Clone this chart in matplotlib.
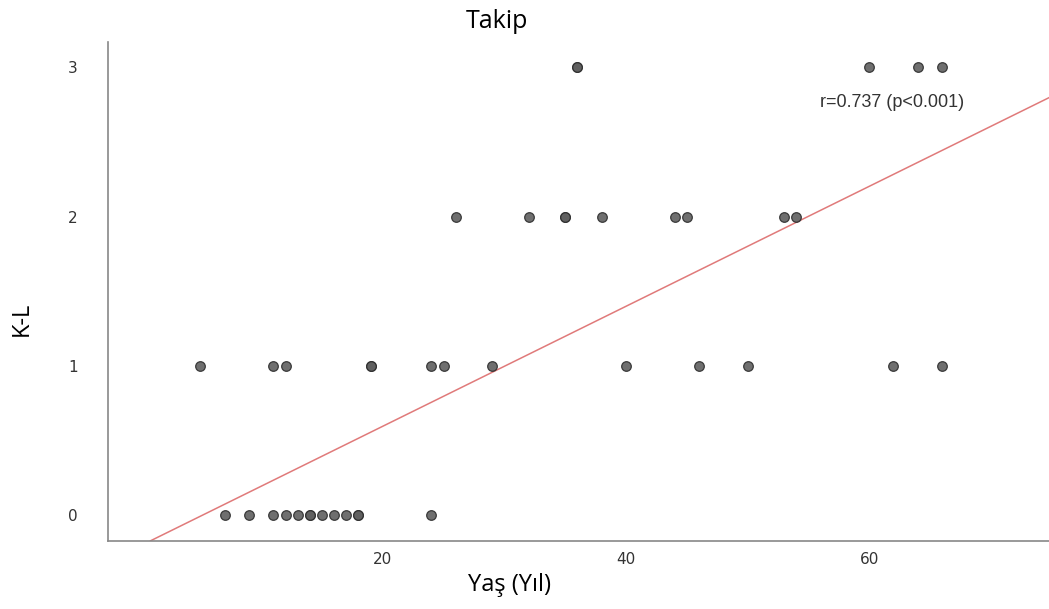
import matplotlib.pyplot as plt

# Age (years) and K-L grade
AGE = [36, 36, 60, 64, 66,
       26, 32, 35, 35, 38, 44, 45, 53, 54,
       5, 11, 12, 19, 19, 24, 25, 29, 40, 46, 50, 62, 66,
       7, 9, 11, 12, 13, 14, 14, 15, 16, 17, 18, 18, 24]
KL = [3, 3, 3, 3, 3,
      2, 2, 2, 2, 2, 2, 2, 2, 2,
      1, 1, 1, 1, 1, 1, 1, 1, 1, 1, 1, 1, 1,
      0, 0, 0, 0, 0, 0, 0, 0, 0, 0, 0, 0, 0]

# fit line as drawn in the reference
FIT_SLOPE = 0.0402
FIT_INTERCEPT = -0.21
FIT_LABEL = "r=0.737 (p<0.001)"

X_TICKS = [20, 40, 60]
Y_TICKS = [0, 1, 2, 3]


def main() -> None:
    fig = plt.figure(figsize=(10.49, 6.09), dpi=100)
    ax = fig.add_axes([0.103, 0.112, 0.897, 0.819])

    ax.scatter(AGE, KL, s=48, color="#5f5f5f", edgecolor="#2e2e2e",
               linewidth=0.9, alpha=0.9, zorder=3)
    ax.axline((0, FIT_INTERCEPT), slope=FIT_SLOPE, color="#e07a7a",
              linewidth=1.1, zorder=2)

    ax.set_xlim(-2.6, 74.8)
    ax.set_ylim(-0.174, 3.17)
    ax.set_xticks(X_TICKS)
    ax.set_yticks(Y_TICKS)
    ax.tick_params(length=0, labelsize=11, labelcolor="#333333")
    ax.tick_params(axis="y", pad=22)
    ax.tick_params(axis="x", pad=8)

    for side in ("top", "right"):
        ax.spines[side].set_visible(False)
    for side in ("left", "bottom"):
        ax.spines[side].set_color("#888888")
        ax.spines[side].set_linewidth(1.2)

    ax.text(0.833, 0.879, FIT_LABEL, transform=ax.transAxes, fontsize=13,
            family="Liberation Sans", color="#333333",
            ha="center", va="center")

    fig.text(0.474, 0.965, "Takip", fontsize=18, family="Open Sans",
             ha="center", va="center")
    fig.text(0.486, 0.04, "Yaş (Yıl)", fontsize=17, family="Open Sans",
             ha="center", va="center")
    fig.text(0.021, 0.476, "K-L", fontsize=17, family="Open Sans",
             rotation=90, ha="center", va="center")

    fig.savefig("out.png", dpi=100)
    plt.close(fig)


if __name__ == "__main__":
    main()
